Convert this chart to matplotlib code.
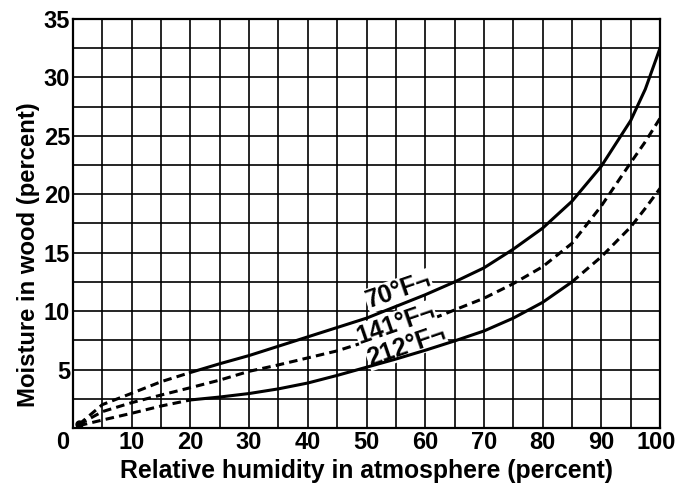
import matplotlib
matplotlib.use("Agg")
import matplotlib.pyplot as plt
import matplotlib.transforms as mtransforms

plt.rcParams['font.family'] = ['Liberation Sans', 'DejaVu Sans']

rh = [1, 5, 10, 15, 20, 25, 30, 35, 40, 45, 50, 55, 60, 65, 70, 75, 80, 85, 90, 95, 97.5, 100]
mc_70 = [0.3, 2.0, 2.97, 3.96, 4.75, 5.5, 6.2, 7.0, 7.8, 8.6, 9.4, 10.4, 11.4, 12.5, 13.7, 15.3, 17.1, 19.4, 22.4, 26.3, 29.0, 32.5]
mc_141 = [0.3, 1.4, 2.17, 2.82, 3.45, 4.1, 4.85, 5.4, 6.0, 6.6, 7.4, 8.2, 9.1, 10.1, 11.1, 12.35, 13.8, 15.8, 19.0, 22.7, 24.5, 26.5]
mc_212 = [0.2, 0.68, 1.26, 1.88, 2.4, 2.65, 2.95, 3.35, 3.85, 4.5, 5.2, 5.9, 6.65, 7.45, 8.3, 9.4, 10.75, 12.5, 14.65, 17.2, 18.8, 20.5]

labels = ["70°F¬", "141°F¬", "212°F¬"]
label_pos = [(55.5, 11.75), (55.0, 8.9), (56.8, 7.0)]

xticks = list(range(0, 101, 10))
xticklabels = [str(v) for v in xticks]
yticks = list(range(0, 36, 5))
yticklabels = [""] + [str(v) for v in yticks[1:]]

fig = plt.figure(figsize=(6.77, 4.90), dpi=100)
ax = fig.add_axes([73/677, 62/490, (660-73)/677, (428-19)/490])
ax.set_xlim(0, 100)
ax.set_ylim(0, 35)

# grid
for gx in range(5, 100, 5):
    ax.axvline(gx, color='black', lw=1.2, zorder=1)
for gy in [v * 2.5 for v in range(1, 14)]:
    ax.axhline(gy, color='black', lw=1.2, zorder=1)

dash = (0, (2.8, 1.7))
lw = 2.2
i20 = rh.index(20)
i85 = rh.index(85)

# 70 F
ax.plot(rh[:i20 + 1], mc_70[:i20 + 1], color='black', lw=lw, ls=dash, zorder=3)
ax.plot(rh[i20:], mc_70[i20:], color='black', lw=lw, zorder=3)
# 141 F
ax.plot(rh, mc_141, color='black', lw=lw, ls=dash, zorder=2)
# 212 F
ax.plot(rh[:i20 + 1], mc_212[:i20 + 1], color='black', lw=lw, ls=dash, zorder=3)
ax.plot(rh[i20:i85 + 1], mc_212[i20:i85 + 1], color='black', lw=lw, zorder=3)
ax.plot(rh[i85:], mc_212[i85:], color='black', lw=lw, ls=dash, zorder=3)
ax.plot([rh[0]], [mc_70[0]], 'o', color='black', ms=5, zorder=4)

for txt, (x, y) in zip(labels, label_pos):
    ax.text(x, y, txt, rotation=19, ha='center', va='center', fontsize=18,
            fontweight='bold', color='black', zorder=2.5,
            bbox=dict(facecolor='white', edgecolor='none', pad=0.3))

ax.set_xticks(xticks)
ax.set_xticklabels(xticklabels)
ax.set_yticks(yticks)
ax.set_yticklabels(yticklabels)
ax.tick_params(length=0, labelsize=17, pad=2)
for lab in ax.get_xticklabels() + ax.get_yticklabels():
    lab.set_fontweight('bold')

xl = ax.get_xticklabels()
xl[0].set_transform(xl[0].get_transform() +
                    mtransforms.ScaledTranslation(-10/100, 0, fig.dpi_scale_trans))
xl[-1].set_transform(xl[-1].get_transform() +
                     mtransforms.ScaledTranslation(-4/100, 0, fig.dpi_scale_trans))

for s in ax.spines.values():
    s.set_linewidth(1.6)
    s.set_color('black')

ax.set_xlabel("Relative humidity in atmosphere (percent)", fontsize=17.8,
              fontweight='bold', labelpad=4)
ax.set_ylabel("Moisture in wood (percent)", fontsize=17.2, fontweight='bold')
ax.yaxis.set_label_coords(-33/587, 0.425)

fig.savefig("out.png", dpi=100, facecolor='white')
